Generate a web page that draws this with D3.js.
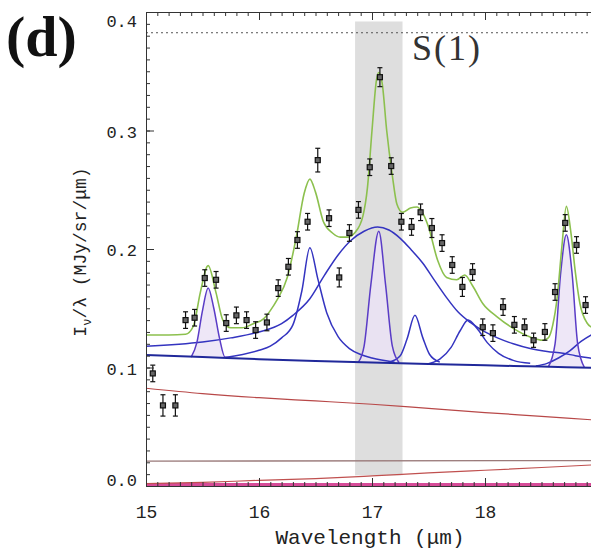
<!DOCTYPE html>
<html><head><meta charset="utf-8">
<script src="https://cdn.jsdelivr.net/npm/d3@7"></script>
<style>
html,body{margin:0;padding:0;background:#fff;}
svg{display:block;overflow:hidden;}
</style></head><body>
<svg id="chart" width="591" height="555"></svg>
<script>
// Observed spectrum (µm, MJy/sr/µm) with 1-sigma uncertainties
const wavelength = [15.06,15.15,15.26,15.35,15.43,15.52,15.62,15.71,15.80,15.89,15.97,16.07,16.17,16.26,16.34,16.43,16.52,16.62,16.71,16.80,16.88,16.98,17.07,17.17,17.26,17.35,17.43,17.53,17.62,17.71,17.80,17.89,17.98,18.07,18.16,18.26,18.35,18.43,18.53,18.62,18.71,18.81,18.89];
const intensity  = [0.095,0.068,0.068,0.140,0.142,0.1755,0.174,0.1375,0.144,0.140,0.1316,0.138,0.167,0.185,0.2076,0.223,0.275,0.226,0.176,0.2135,0.233,0.269,0.345,0.270,0.223,0.2186,0.231,0.2177,0.205,0.1865,0.168,0.1806,0.134,0.129,0.151,0.136,0.134,0.123,0.130,0.1637,0.222,0.2034,0.1527];
const uncertainty= [0.007,0.009,0.009,0.007,0.007,0.007,0.007,0.007,0.007,0.007,0.007,0.007,0.007,0.007,0.007,0.007,0.010,0.007,0.008,0.007,0.007,0.007,0.008,0.007,0.007,0.007,0.007,0.008,0.007,0.007,0.008,0.007,0.007,0.007,0.007,0.007,0.007,0.006,0.007,0.007,0.007,0.007,0.007];

// Total fitted model
const fitTotal = [[15.00,0.1274],[15.20,0.1274],[15.35,0.128],[15.42,0.135],[15.48,0.163],[15.55,0.186],[15.62,0.163],[15.68,0.140],[15.75,0.1335],[15.85,0.1335],[15.95,0.137],[16.04,0.141],[16.10,0.148],[16.16,0.157],[16.25,0.176],[16.33,0.21],[16.40,0.247],[16.45,0.259],[16.50,0.248],[16.57,0.223],[16.65,0.2135],[16.72,0.210],[16.78,0.210],[16.85,0.214],[16.92,0.228],[16.96,0.252],[17.00,0.300],[17.04,0.343],[17.06,0.349],[17.09,0.340],[17.13,0.300],[17.18,0.262],[17.22,0.238],[17.27,0.231],[17.34,0.2346],[17.40,0.2355],[17.45,0.230],[17.50,0.2186],[17.58,0.1907],[17.66,0.176],[17.75,0.174],[17.82,0.178],[17.89,0.169],[17.98,0.154],[18.11,0.1426],[18.25,0.133],[18.40,0.1257],[18.51,0.123],[18.56,0.125],[18.60,0.136],[18.64,0.16],[18.68,0.2017],[18.72,0.236],[18.76,0.214],[18.80,0.180],[18.84,0.154],[18.90,0.138],[18.95,0.134],[19.10,0.133]];

// Blue continuum underlying the features
const blueContinuum = [[15.0,0.1105],[15.5,0.1088],[16.0,0.1070],[16.5,0.1055],[17.0,0.1042],[17.5,0.1030],[18.0,0.1018],[18.5,0.1008],[19.0,0.0996],[19.4,0.0990]];

// Broad features (continuum + feature)
const plateau17 = [[15.0,0.118],[15.5,0.1215],[15.75,0.125],[16.0,0.130],[16.2,0.137],[16.3,0.144],[16.45,0.158],[16.58,0.178],[16.7,0.195],[16.81,0.207],[16.93,0.215],[17.05,0.2186],[17.15,0.216],[17.25,0.209],[17.35,0.199],[17.45,0.188],[17.55,0.174],[17.66,0.159],[17.76,0.147],[17.87,0.138],[18.0,0.130],[18.11,0.125],[18.25,0.120],[18.4,0.116],[18.55,0.1135],[18.69,0.112],[18.8,0.110],[18.93,0.108],[19.1,0.106]];
const band164 = [[15.70,0.1085],[16.0,0.1145],[16.1,0.118],[16.2,0.125],[16.3,0.136],[16.38,0.165],[16.45,0.201],[16.52,0.175],[16.6,0.146],[16.7,0.126],[16.8,0.116],[16.9,0.111],[17.0,0.108],[17.2,0.1045]];
const band174 = [[17.15,0.1045],[17.25,0.110],[17.31,0.124],[17.38,0.144],[17.45,0.125],[17.51,0.111],[17.6,0.1045]];
const band179 = [[17.50,0.1032],[17.60,0.107],[17.70,0.117],[17.78,0.131],[17.85,0.140],[17.93,0.133],[18.02,0.121],[18.12,0.112],[18.25,0.106],[18.40,0.1035]];
const band19  = [[18.45,0.1012],[18.55,0.1035],[18.65,0.108],[18.75,0.114],[18.85,0.122],[18.95,0.128],[19.05,0.132]];

// Narrow emission lines (continuum + line)
const lineNeIII = [[15.40,0.1088],[15.45,0.121],[15.50,0.148],[15.55,0.167],[15.60,0.150],[15.65,0.125],[15.70,0.1086],[15.74,0.1085]];
const lineH2S1  = [[16.88,0.1045],[16.93,0.118],[16.99,0.170],[17.06,0.215],[17.12,0.170],[17.18,0.118],[17.24,0.1040]];
const lineSIII  = [[18.56,0.1005],[18.62,0.120],[18.67,0.180],[18.72,0.212],[18.77,0.180],[18.82,0.120],[18.88,0.1000]];

// Lower continuum components
const redUpper  = [[15.0,0.0825],[15.5,0.078],[16.0,0.0745],[16.5,0.0718],[17.0,0.069],[17.5,0.0655],[18.0,0.062],[18.5,0.0588],[19.0,0.0555],[19.4,0.053]];
const flatLevel = [[15.0,0.0210],[19.4,0.0215]];
const redRising = [[15.0,0.002],[15.5,0.003],[16.0,0.0048],[16.5,0.0063],[17.0,0.0085],[17.5,0.011],[18.0,0.0133],[18.5,0.0156],[19.0,0.018],[19.4,0.020]];
const floorLine = [[15.0,0.0012],[19.4,0.0012]];

// Reference level, highlighted window and labels
const refLevel = 0.3825;
const window17 = [16.85, 17.27];
const windowLevels = [0.009, 0.392];
const xTicks = [15, 16, 17, 18];
const yTicks = [0.0, 0.1, 0.2, 0.3, 0.4];
const panelTag = "(d)";
const lineTag = "S(1)";

const svg = d3.select("#chart");
const L = 146, T = 12, B = 486, R = 591;
const x = d3.scaleLinear().domain([15, 19.4]).range([L, L + 4.4 * 113]);
const y = d3.scaleLinear().domain([0, 0.4]).range([B, T]);

svg.append("defs").append("clipPath").attr("id", "plotClip")
  .append("rect").attr("x", L).attr("y", T).attr("width", R - L).attr("height", B - T + 2);

const plot = svg.append("g").attr("clip-path", "url(#plotClip)");

// highlighted window
plot.append("rect")
  .attr("x", x(window17[0])).attr("width", x(window17[1]) - x(window17[0]))
  .attr("y", y(windowLevels[1])).attr("height", y(windowLevels[0]) - y(windowLevels[1]))
  .attr("fill", "#d8d8d8").attr("opacity", 0.85);

// dotted reference level
plot.append("line")
  .attr("x1", x(15)).attr("x2", x(19.4)).attr("y1", y(refLevel)).attr("y2", y(refLevel))
  .attr("stroke", "#555").attr("stroke-width", 1).attr("stroke-dasharray", "2,3");

const line = d3.line().x(d => x(d[0])).y(d => y(d[1])).curve(d3.curveMonotoneX);
const contAt = l => {
  const i = d3.bisector(d => d[0]).right(blueContinuum, l);
  const a = blueContinuum[Math.max(0, i - 1)], b = blueContinuum[Math.min(blueContinuum.length - 1, i)];
  if (a === b) return a[1];
  return a[1] + (b[1] - a[1]) * (l - a[0]) / (b[0] - a[0]);
};
const lineArea = d3.area().x(d => x(d[0])).y0(d => y(contAt(d[0]))).y1(d => y(d[1])).curve(d3.curveMonotoneX);

// fills under narrow lines
[lineNeIII, lineH2S1, lineSIII].forEach(s => {
  plot.append("path").datum(s).attr("d", lineArea).attr("fill", "#ebe3f6").attr("opacity", 0.85);
});

// lower components
plot.append("path").datum(floorLine).attr("d", line).attr("fill", "none").attr("stroke", "#d64b98").attr("stroke-width", 3);
plot.append("path").datum(redRising).attr("d", line).attr("fill", "none").attr("stroke", "#c0504f").attr("stroke-width", 1.2);
plot.append("path").datum(flatLevel).attr("d", line).attr("fill", "none").attr("stroke", "#9a7a7a").attr("stroke-width", 1.3);
plot.append("path").datum(redUpper).attr("d", line).attr("fill", "none").attr("stroke", "#b84848").attr("stroke-width", 1.2);

// broad features
[plateau17, band164, band174, band179, band19].forEach(s => {
  plot.append("path").datum(s).attr("d", line).attr("fill", "none").attr("stroke", "#3434c0").attr("stroke-width", 1.5);
});
// narrow lines
[lineNeIII, lineH2S1, lineSIII].forEach(s => {
  plot.append("path").datum(s).attr("d", line).attr("fill", "none").attr("stroke", "#5a3cc6").attr("stroke-width", 1.5);
});
// continuum
plot.append("path").datum(blueContinuum).attr("d", line).attr("fill", "none").attr("stroke", "#20289a").attr("stroke-width", 2);

// total model
plot.append("path").datum(fitTotal).attr("d", line).attr("fill", "none").attr("stroke", "#8cc04e").attr("stroke-width", 1.6);

// data with error bars
const pts = wavelength.map((w, i) => ({w, v: intensity[i], e: uncertainty[i]}));
const pg = plot.append("g").selectAll("g").data(pts).join("g");
pg.append("line").attr("x1", d => x(d.w)).attr("x2", d => x(d.w))
  .attr("y1", d => y(d.v - d.e)).attr("y2", d => y(d.v + d.e)).attr("stroke", "#111").attr("stroke-width", 1.2);
pg.append("line").attr("x1", d => x(d.w) - 2.5).attr("x2", d => x(d.w) + 2.5)
  .attr("y1", d => y(d.v + d.e)).attr("y2", d => y(d.v + d.e)).attr("stroke", "#111").attr("stroke-width", 1.2);
pg.append("line").attr("x1", d => x(d.w) - 2.5).attr("x2", d => x(d.w) + 2.5)
  .attr("y1", d => y(d.v - d.e)).attr("y2", d => y(d.v - d.e)).attr("stroke", "#111").attr("stroke-width", 1.2);
pg.append("rect").attr("x", d => x(d.w) - 2.5).attr("y", d => y(d.v) - 2.5)
  .attr("width", 5).attr("height", 5).attr("fill", "#666").attr("stroke", "#111").attr("stroke-width", 1.2);

// axes
const tickFont = "'Liberation Mono', 'DejaVu Sans Mono', monospace";
const styleAxis = g => {
  g.select(".domain").attr("stroke", "#333");
  g.selectAll(".tick line").attr("stroke", "#333");
  g.selectAll(".tick text").attr("font-family", tickFont).attr("font-size", 18).attr("fill", "#222");
};
svg.append("g").attr("transform", `translate(0,${B})`)
  .call(d3.axisBottom(x).tickValues(d3.range(15, 19.41, 0.1)).tickSize(-4).tickSizeOuter(0).tickFormat(""))
  .call(styleAxis);
svg.append("g").attr("transform", `translate(0,${B})`)
  .call(d3.axisBottom(x).tickValues(xTicks).tickSize(-8).tickSizeOuter(0).tickPadding(19).tickFormat(d3.format("d")))
  .call(styleAxis);
svg.append("g").attr("transform", `translate(0,${T})`)
  .call(d3.axisTop(x).tickValues(d3.range(15, 19.41, 0.1)).tickSize(-4).tickSizeOuter(0).tickFormat(""))
  .call(styleAxis);
svg.append("g").attr("transform", `translate(0,${T})`)
  .call(d3.axisTop(x).tickValues(xTicks).tickSize(-8).tickSizeOuter(0).tickFormat(""))
  .call(styleAxis);
svg.append("g").attr("transform", `translate(${L},0)`)
  .call(d3.axisLeft(y).tickValues(d3.range(0, 0.4001, 0.01)).tickSize(-4).tickSizeOuter(0).tickFormat(""))
  .call(styleAxis);
const yAx = svg.append("g").attr("transform", `translate(${L},0)`)
  .call(d3.axisLeft(y).tickValues(yTicks).tickSize(-8).tickSizeOuter(0).tickPadding(9).tickFormat(d3.format(".1f")))
  .call(styleAxis);
yAx.selectAll(".tick text").attr("font-size", 17)
  .attr("dy", d => d === 0.4 ? "0.85em" : d === 0 ? "-0.05em" : "0.4em");

// axis titles
svg.append("text").attr("x", 370).attr("y", 544).attr("text-anchor", "middle")
  .attr("font-family", tickFont).attr("font-size", 21).attr("fill", "#222")
  .text("Wavelength (\u03bcm)");
const yt = svg.append("text").attr("transform", "translate(86,252) rotate(-90)").attr("text-anchor", "middle")
  .attr("font-family", tickFont).attr("font-size", 18).attr("fill", "#222");
yt.append("tspan").text("I");
yt.append("tspan").attr("font-size", 12).attr("dy", 5).text("\u03bd");
yt.append("tspan").attr("dy", -5).text("/\u03bb (MJy/sr/\u03bcm)");

// panel tag and line label
svg.append("text").attr("x", 6).attr("y", 56).attr("font-family", "'Liberation Serif', 'DejaVu Serif', serif")
  .attr("font-weight", "bold").attr("font-size", 58).attr("fill", "#111").text(panelTag);
svg.append("text").attr("x", 412).attr("y", 60).attr("font-family", "'Liberation Serif', 'DejaVu Serif', serif")
  .attr("font-size", 36).attr("letter-spacing", 2).attr("fill", "#333").text(lineTag);
</script>
</body></html>
